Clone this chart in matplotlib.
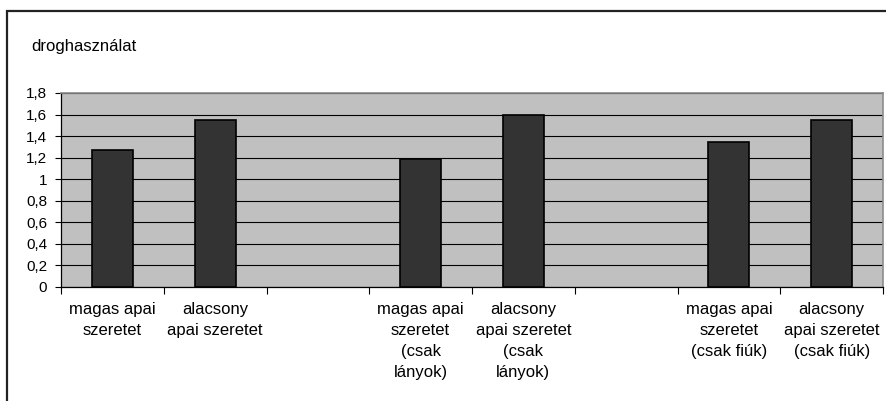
import numpy as np
import matplotlib
matplotlib.use("Agg")
import matplotlib.pyplot as plt
from matplotlib.patches import Rectangle

# adatok (ures kategoriak = hezag a csoportok kozott)
categories = ["magas apai\nszeretet", "alacsony\napai szeretet", "",
              "magas apai\nszeretet\n(csak\nlányok)", "alacsony\napai szeretet\n(csak\nlányok)", "",
              "magas apai\nszeretet\n(csak fiúk)", "alacsony\napai szeretet\n(csak fiúk)"]
values = [1.27, 1.55, np.nan, 1.19, 1.60, np.nan, 1.35, 1.55]
yticks = [0, 0.2, 0.4, 0.6, 0.8, 1.0, 1.2, 1.4, 1.6, 1.8]
ylabel = "droghasználat"

plt.rcParams['font.family'] = ['Liberation Sans', 'DejaVu Sans']

W, H = 887, 401
fig = plt.figure(figsize=(W/100, H/100), dpi=100)
fig.patch.set_facecolor("white")

# kulso keret
fig.patches.append(Rectangle((7/W, -0.1), 1.2, 1 - 11/H + 0.1, transform=fig.transFigure,
                             fill=False, edgecolor="#222222", linewidth=1.6))

ax = fig.add_axes([61/W, 1 - 287/H, (883-61)/W, (287-93)/H])
ax.set_facecolor("#c0c0c0")

x = np.arange(len(categories)) + 0.5
ax.bar(x, values, width=0.4, color="#333333", edgecolor="#000000", linewidth=1.2, zorder=3)

ax.set_xlim(0, len(categories))
ax.set_ylim(0, 1.8)

# y tengely, tizedesvesszovel
ax.set_yticks(yticks)
ax.set_yticklabels([("%g" % v).replace(".", ",") for v in yticks], fontsize=11)
ax.tick_params(axis="y", direction="out", length=4, width=0.8, pad=6, color="black")
ax.yaxis.grid(True, color="black", linewidth=0.8, zorder=1)

# x tengely: jelolok a kategoriak hatarain, feliratok kozepen
ax.set_xticks(np.arange(len(categories) + 1))
ax.set_xticklabels([])
ax.set_xticks(x, minor=True)
ax.set_xticklabels(categories, minor=True, fontsize=12, linespacing=1.5)
ax.tick_params(axis="x", which="major", direction="out", length=5, width=0.8, color="black")
ax.tick_params(axis="x", which="minor", length=0, pad=11)

for s in ["left", "bottom"]:
    ax.spines[s].set_color("black")
    ax.spines[s].set_linewidth(0.9)
for s in ["top", "right"]:
    ax.spines[s].set_color("#8c8c8c")
    ax.spines[s].set_linewidth(1.2)
ax.set_axisbelow(True)

fig.text(31/W, 1 - 46/H, ylabel, fontsize=12, ha="left", va="center")

fig.savefig("out.png", dpi=100)
